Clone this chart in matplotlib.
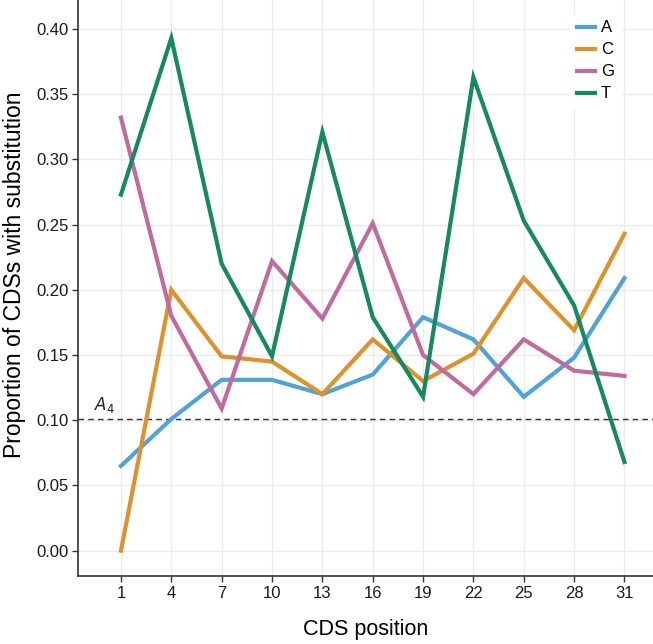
import matplotlib
matplotlib.use("Agg")
import matplotlib.pyplot as plt

plt.rcParams["font.family"] = ["Liberation Sans", "DejaVu Sans"]

# CDS positions and per-nucleotide substitution proportions
positions = [1, 4, 7, 10, 13, 16, 19, 22, 25, 28, 31]
prop_A = [0.065, 0.101, 0.131, 0.131, 0.120, 0.135, 0.179, 0.162, 0.118, 0.148, 0.209]
prop_C = [0.000, 0.200, 0.149, 0.145, 0.120, 0.162, 0.130, 0.151, 0.209, 0.169, 0.243]
prop_G = [0.332, 0.180, 0.109, 0.222, 0.178, 0.251, 0.150, 0.120, 0.162, 0.138, 0.134]
prop_T = [0.273, 0.393, 0.220, 0.149, 0.321, 0.179, 0.118, 0.363, 0.253, 0.188, 0.068]
threshold = 0.101

series = [("A", prop_A, "#4EA3DA"),
          ("C", prop_C, "#DE922B"),
          ("G", prop_G, "#C26A9F"),
          ("T", prop_T, "#17895F")]

fig = plt.figure(figsize=(6.53, 6.44), dpi=100)
ax = fig.add_axes([78 / 653, 68 / 644, 575 / 653, 576 / 644])

for name, vals, color in series:
    ax.plot(positions, vals, color=color, linewidth=3.0, label=name,
            solid_joinstyle="miter", zorder=3)

# reference line
ax.axhline(threshold, color="#333333", linestyle=(0, (4, 3)), linewidth=1.0, zorder=2)
ax.text(-0.6, threshold + 0.003, r"$A_4$", fontsize=12, ha="left", va="bottom",
        color="#222222")

ax.set_xlim(-1.56, 32.7)
ax.set_ylim(-0.0194, 0.4222)
ax.set_xticks(positions)
ax.set_yticks([0.0, 0.05, 0.10, 0.15, 0.20, 0.25, 0.30, 0.35, 0.40])
ax.set_yticklabels(["0.00", "0.05", "0.10", "0.15", "0.20", "0.25", "0.30", "0.35", "0.40"])

ax.grid(True, color="#EBEBEB", linewidth=1.0, zorder=0)
ax.set_axisbelow(True)
for side in ["top", "right"]:
    ax.spines[side].set_visible(False)
for side in ["left", "bottom"]:
    ax.spines[side].set_color("#333333")
    ax.spines[side].set_linewidth(1.2)
ax.tick_params(axis="both", direction="out", length=4, width=1.0, color="#333333",
               labelsize=12, labelcolor="#1a1a1a", pad=3)

ax.set_xlabel("CDS position", fontsize=15.5, labelpad=13)
ax.set_ylabel("Proportion of CDSs with substitution", fontsize=16.5)
ax.yaxis.set_label_coords(-0.09, 0.523)

leg = ax.legend(loc="upper left", bbox_to_anchor=(0.856, 0.976), borderaxespad=0,
                frameon=True, fontsize=12, handlelength=1.1, handletextpad=0.35,
                labelspacing=0.42, borderpad=0.4)
leg.get_frame().set_facecolor("white")
leg.get_frame().set_edgecolor("white")
leg.get_frame().set_alpha(1)
leg.get_frame().set_boxstyle("square", pad=0)

fig.savefig("out.png", dpi=100, facecolor="white")
